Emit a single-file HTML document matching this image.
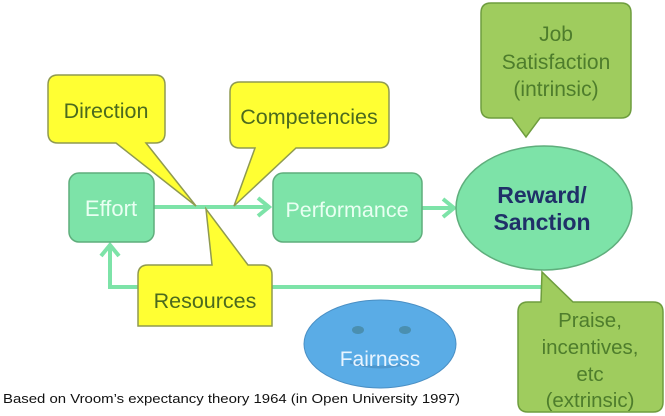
<!DOCTYPE html>
<html><head><meta charset="utf-8"><style>html,body{margin:0;padding:0;background:#fff}svg{display:block}</style></head>
<body>
<svg width="665" height="416" viewBox="0 0 665 416" xmlns="http://www.w3.org/2000/svg" font-family="Liberation Sans, sans-serif">
<polyline points="545,287 110,287 110,246" fill="none" stroke="#7de3a8" stroke-width="4"/>
<polyline points="101,256 110,245 119,256" fill="none" stroke="#7de3a8" stroke-width="4"/>
<line x1="154" y1="207" x2="269" y2="207" stroke="#7de3a8" stroke-width="4"/>
<polyline points="258,198 269,207 258,216" fill="none" stroke="#7de3a8" stroke-width="4"/>
<line x1="422" y1="208" x2="454" y2="208" stroke="#7de3a8" stroke-width="4"/>
<polyline points="443,199 454,208 443,217" fill="none" stroke="#7de3a8" stroke-width="4"/>
<rect x="69" y="173" width="85" height="69" rx="10" fill="#7de3a8" stroke="#5fae7c" stroke-width="1.5"/>
<text x="111" y="216" font-size="22" fill="#e9fff2" text-anchor="middle">Effort</text>
<rect x="273" y="173" width="149" height="69" rx="10" fill="#7de3a8" stroke="#5fae7c" stroke-width="1.5"/>
<text x="347" y="217" font-size="21.5" fill="#e9fff2" text-anchor="middle">Performance</text>
<path d="M58,75 H155 Q165,75 165,85 V133 Q165,143 155,143 H146 L196,206 L116,143 H58 Q48,143 48,133 V85 Q48,75 58,75 Z" fill="#ffff33" stroke="#8f9a50" stroke-width="1.5"/>
<text x="106" y="118" font-size="21.5" fill="#4b6a1e" text-anchor="middle">Direction</text>
<path d="M240,82 H379 Q389,82 389,92 V138 Q389,148 379,148 H296 L234,206 L255,148 H240 Q230,148 230,138 V92 Q230,82 240,82 Z" fill="#ffff33" stroke="#8f9a50" stroke-width="1.5"/>
<text x="309" y="124" font-size="21.5" fill="#4b6a1e" text-anchor="middle">Competencies</text>
<path d="M148,265 H212 L206,209 L248,265 H262 Q272,265 272,275 V326 H138 V275 Q138,265 148,265 Z" fill="#ffff33" stroke="#8f9a50" stroke-width="1.5"/>
<text x="205" y="308" font-size="21.5" fill="#4b6a1e" text-anchor="middle">Resources</text>
<ellipse cx="544" cy="208" rx="88" ry="62" fill="#7de3a8" stroke="#5fae7c" stroke-width="1.5"/>
<text x="542" y="203" font-size="23" font-weight="bold" fill="#1f3068" text-anchor="middle">Reward/</text>
<text x="542" y="230" font-size="23" font-weight="bold" fill="#1f3068" text-anchor="middle">Sanction</text>
<path d="M491,3 H621 Q631,3 631,13 V108 Q631,118 621,118 H540 L526,137 L512,118 H491 Q481,118 481,108 V13 Q481,3 491,3 Z" fill="#9fcc5e" stroke="#6e9d3e" stroke-width="1.5"/>
<g font-size="21" fill="#4e7d2c" text-anchor="middle"><text x="556" y="41">Job</text><text x="556" y="69">Satisfaction</text><text x="556" y="96">(intrinsic)</text></g>
<path d="M528,302 H541 L542,272 L573,302 H653 Q663,302 663,312 V402 Q663,412 653,412 H528 Q518,412 518,402 V312 Q518,302 528,302 Z" fill="#9fcc5e" stroke="#6e9d3e" stroke-width="1.5"/>
<g font-size="20.5" fill="#4e7d2c" text-anchor="middle"><text x="590" y="327">Praise,</text><text x="590" y="354">incentives,</text><text x="590" y="381">etc</text><text x="590" y="407">(extrinsic)</text></g>
<ellipse cx="380" cy="344" rx="76" ry="44" fill="#5aace6" stroke="#4a8fc4" stroke-width="1"/>
<ellipse cx="358" cy="330" rx="6" ry="4" fill="#4a8fb0"/>
<ellipse cx="405" cy="330" rx="6" ry="4" fill="#4a8fb0"/>
<path d="M350,362 Q380,372 410,362" fill="none" stroke="#4d96cc" stroke-width="3"/>
<text x="380" y="366" font-size="21" fill="#e8f4ff" text-anchor="middle">Fairness</text>
<text x="3" y="403" font-size="12.5" fill="#111" textLength="457" lengthAdjust="spacingAndGlyphs">Based on Vroom’s expectancy theory 1964 (in Open University 1997)</text>
</svg>
</body></html>
